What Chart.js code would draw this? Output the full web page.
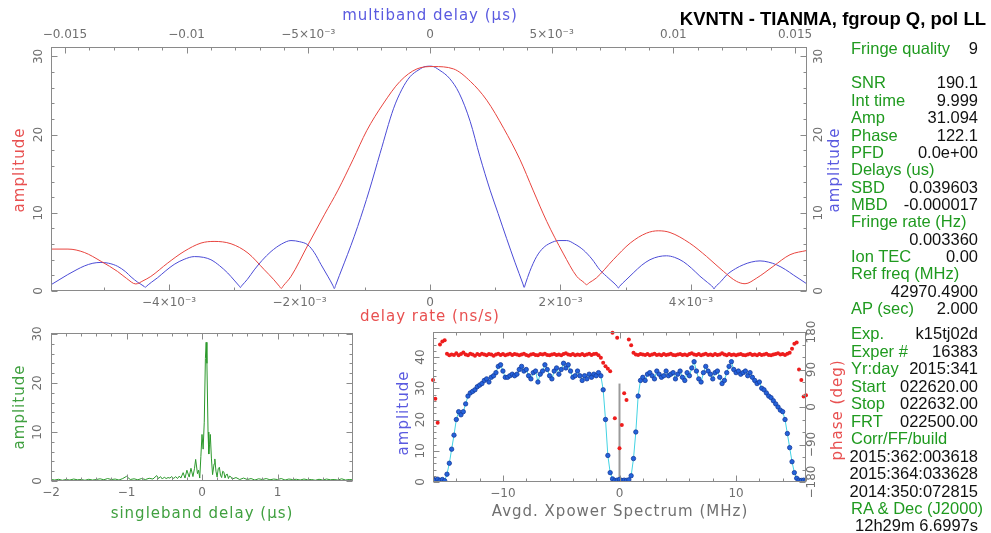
<!DOCTYPE html>
<html>
<head>
<meta charset="utf-8">
<script src="https://cdn.jsdelivr.net/npm/chart.js@4.4.1/dist/chart.umd.min.js"></script>
<style>
  html, body { margin: 0; padding: 0; background: #fff; }
  #wrap { position: relative; width: 991px; height: 533px; overflow: hidden; font-family: 'Liberation Sans', Arial, sans-serif; }
  #wrap canvas { position: absolute; left: 0; top: 0; }
  #title { position: absolute; right: 5px; top: 8px; font-weight: bold; font-size: 18.5px; color: #000; white-space: nowrap; }
  .row { position: absolute; left: 851px; width: 127px; height: 18px; line-height: 18px; font-size: 16.5px; white-space: nowrap; }
  .row .lab { position: absolute; left: 0; color: #1f9a1f; }
  .row .val { position: absolute; right: 0; color: #111; }
</style>
</head>
<body>
<div id="wrap">
  <canvas id="topChart" width="991" height="533"></canvas>
  <canvas id="sbdChart" width="991" height="533"></canvas>
  <canvas id="xpChart" width="991" height="533"></canvas>
  <div id="title">KVNTN - TIANMA, fgroup Q, pol LL</div>
  <div id="info"></div>
</div>
<script>
const FONT = "'DejaVu Sans', sans-serif";
const TICK_COLOR = '#6f6f6f';
const AXIS_COLOR = '#8a8a8a';

// ---- top panel: amplitude vs delay rate (red, x in 1e-3 ns/s) and multiband delay (blue, x in 1e-3 us)
const RATE_X = [-5.81, -5.55, -5.30, -5.04, -4.79, -4.65, -4.51, -4.40, -4.28, -4.02,
  -3.77, -3.51, -3.31, -3.05, -2.79, -2.54, -2.40, -2.31, -2.28, -2.25,
  -2.13, -1.87, -1.62, -1.41, -1.18, -0.97, -0.72, -0.46, -0.20, 0.05,
  0.36, 0.62, 0.87, 1.13, 1.38, 1.58, 1.79, 2.04, 2.25, 2.36,
  2.40, 2.44, 2.55, 2.81, 3.07, 3.32, 3.50, 3.68, 3.98, 4.24,
  4.50, 4.70, 4.83, 5.01, 5.26, 5.52, 5.78];
const RATE_AMP = [5.36, 5.36, 4.93, 3.78, 2.5, 1.6, 0.9, 1.3, 1.86, 3.58,
  5.06, 6.13, 6.34, 6.04, 4.85, 2.72, 1.5, 0.62, 0.33, 0.65,
  1.87, 5.9, 9.74, 12.9, 16.8, 20.5, 23.9, 26.8, 28.4, 28.7,
  28.4, 26.8, 24.4, 20.8, 16.8, 12.9, 8.9, 4.85, 1.87, 1.1,
  0.8, 1.05, 1.66, 4.0, 6.13, 7.4, 7.7, 7.48, 6.13, 4.42,
  2.5, 1.23, 0.93, 1.66, 3.14, 4.64, 5.19];

const MBD_X = [-15.57, -15.2, -14.88, -14.5, -14.2, -13.85, -13.52, -13.2, -12.83, -12.5,
  -12.28, -12.0, -11.75, -11.70, -11.65, -11.45, -11.19, -10.85, -10.51, -10.1,
  -9.68, -9.3, -9.0, -8.65, -8.31, -8.05, -7.84, -7.79, -7.74, -7.5,
  -7.22, -6.9, -6.53, -6.1, -5.71, -5.35, -5.02, -4.75, -4.48, -4.2,
  -3.98, -3.93, -3.88, -3.72, -3.52, -3.25, -2.97, -2.49, -2.05, -1.5,
  -1.15, -0.82, -0.45, -0.2, 0.05, 0.41, 0.8, 1.2, 1.65, 2.05,
  2.47, 2.8, 3.15, 3.5, 3.82, 3.87, 3.92, 4.1, 4.38, 4.65,
  4.93, 5.3, 5.62, 5.95, 6.30, 6.65, 6.98, 7.35, 7.69, 7.74,
  7.79, 8.05, 8.35, 8.7, 9.04, 9.4, 9.72, 10.05, 10.41, 10.75,
  11.09, 11.4, 11.62, 11.67, 11.72, 11.95, 12.19, 12.55, 12.87, 13.2,
  13.56, 13.9, 14.24, 14.6, 14.93, 15.2, 15.49];
const MBD_AMP = [0.8, 1.5, 2.1, 2.75, 3.2, 3.55, 3.65, 3.55, 3.15, 2.45,
  1.8, 1.1, 0.6, 0.45, 0.6, 1.1, 1.7, 2.6, 3.4, 4.05,
  4.4, 4.3, 4.0, 3.25, 2.3, 1.4, 0.65, 0.45, 0.65, 1.5,
  2.7, 3.9, 5.05, 6.0, 6.45, 6.3, 5.9, 4.9, 3.4, 1.9,
  0.65, 0.3, 0.7, 2.0, 3.6, 5.8, 8.25, 12.9, 17.6, 23.3,
  25.8, 27.4, 28.3, 28.7, 28.75, 28.2, 27.2, 25.3, 21.7, 17.2,
  12.9, 9.9, 6.7, 3.6, 0.9, 0.46, 0.9, 2.5, 4.4, 5.5,
  6.1, 6.45, 6.45, 6.0, 5.25, 4.1, 2.7, 1.6, 0.6, 0.38,
  0.6, 1.4, 2.3, 3.3, 4.0, 4.4, 4.5, 4.3, 3.75, 2.9,
  1.9, 1.1, 0.5, 0.26, 0.5, 1.2, 2.05, 2.85, 3.35, 3.7,
  3.85, 3.7, 3.35, 2.75, 2.05, 1.5, 0.9];

const RATE_TICKS = [-5, -4, -3, -2, -1, 0, 1, 2, 3, 4, 5];
const RATE_LABELS = [-4, -2, 0, 2, 4];
const RATE_LABEL_TEXT = ['−4×10⁻³', '−2×10⁻³', '0', '2×10⁻³', '4×10⁻³'];
const MBD_TICKS = [-15, -14, -13, -12, -11, -10, -9, -8, -7, -6, -5, -4, -3, -2, -1, 0,
  1, 2, 3, 4, 5, 6, 7, 8, 9, 10, 11, 12, 13, 14, 15];
const MBD_LABELS = [-15, -10, -5, 0, 5, 10, 15];
const MBD_LABEL_TEXT = ['−0.015', '−0.01', '−5×10⁻³', '0', '5×10⁻³', '0.01', '0.015'];
const AMP_TICKS = [0, 2, 4, 6, 8, 10, 12, 14, 16, 18, 20, 22, 24, 26, 28, 30];
const AMP_LABELS = [0, 10, 20, 30];

// ---- bottom left: singleband delay function
const SBD_X = [-2.00, -1.95, -1.90, -1.85, -1.80, -1.75, -1.70, -1.65, -1.60, -1.55,
  -1.50, -1.45, -1.40, -1.35, -1.30, -1.25, -1.20, -1.15, -1.10, -1.05,
  -1.00, -0.95, -0.90, -0.85, -0.80, -0.75, -0.70, -0.65, -0.60, -0.575,
  -0.55, -0.525, -0.50, -0.475, -0.45, -0.425, -0.40, -0.375, -0.35, -0.325,
  -0.30, -0.28, -0.25, -0.225, -0.20, -0.17, -0.146, -0.12, -0.10, -0.084,
  -0.06, -0.045, -0.03, -0.015, 0.00, 0.015, 0.03, 0.045, 0.055, 0.065,
  0.08, 0.09, 0.10, 0.11, 0.125, 0.14, 0.16, 0.17, 0.185, 0.20,
  0.215, 0.23, 0.245, 0.26, 0.275, 0.29, 0.305, 0.32, 0.335, 0.35,
  0.365, 0.38, 0.40, 0.45, 0.50, 0.55, 0.60, 0.65, 0.70, 0.75,
  0.80, 0.85, 0.90, 0.95, 1.00, 1.05, 1.10, 1.15, 1.20, 1.25,
  1.30, 1.35, 1.40, 1.45, 1.50, 1.55, 1.60, 1.65, 1.70, 1.75,
  1.80, 1.85, 1.90, 1.95, 2.00];
const SBD_AMP = [0.3, 0.2, 0.35, 0.15, 0.3, 0.2, 0.4, 0.25, 0.3, 0.15,
  0.35, 0.2, 0.3, 0.45, 0.25, 0.5, 0.3, 0.4, 0.2, 0.5,
  0.95, 0.3, 0.45, 0.25, 0.5, 0.3, 0.55, 0.4, 1.1, 0.5,
  0.9, 0.4, 0.8, 0.5, 0.7, 0.6, 0.9, 0.5, 0.9, 0.5,
  1.0, 0.6, 1.7, 0.6, 2.2, 0.8, 2.6, 0.9, 2.5, 4.4,
  1.5, 2.2, 0.6, 5.0, 9.5, 6.5, 12.0, 25.0, 28.3, 24.0,
  10.0, 5.5, 7.5, 9.5, 4.5, 1.3, 3.5, 4.5, 2.0, 0.8,
  2.5, 2.8, 1.2, 0.7, 2.0, 1.8, 0.6, 1.3, 1.4, 0.5,
  1.0, 0.9, 0.4, 0.7, 0.3, 0.6, 0.3, 0.5, 0.2, 0.45,
  0.3, 0.5, 0.25, 0.4, 0.3, 0.5, 0.2, 0.4, 0.3, 0.35,
  0.2, 0.4, 0.25, 0.3, 0.15, 0.35, 0.2, 0.4, 0.25, 0.3,
  0.2, 0.45, 0.2, 0.3, 0.25];
const SBD_TICKS = [-2, -1.8, -1.6, -1.4, -1.2, -1, -0.8, -0.6, -0.4, -0.2, 0,
  0.2, 0.4, 0.6, 0.8, 1, 1.2, 1.4, 1.6, 1.8];
const SBD_LABELS = [-2, -1, 0, 1];
const SBD_LABEL_TEXT = ['−2', '−1', '0', '1'];

// ---- bottom middle: averaged cross-power spectrum (MHz, amplitude, phase in deg)
const XP_FREQ = [-16.0, -15.8, -15.6, -15.4, -15.2, -15.0, -14.8, -14.6, -14.4, -14.2,
  -14.0, -13.8, -13.6, -13.4, -13.2, -13.0, -12.8, -12.6, -12.4, -12.2,
  -12.0, -11.8, -11.6, -11.4, -11.2, -11.0, -10.8, -10.6, -10.4, -10.2,
  -10.0, -9.8, -9.6, -9.4, -9.2, -9.0, -8.8, -8.6, -8.4, -8.2,
  -8.0, -7.8, -7.6, -7.4, -7.2, -7.0, -6.8, -6.6, -6.4, -6.2,
  -6.0, -5.8, -5.6, -5.4, -5.2, -5.0, -4.8, -4.6, -4.4, -4.2,
  -4.0, -3.8, -3.6, -3.4, -3.2, -3.0, -2.8, -2.6, -2.4, -2.2,
  -2.0, -1.8, -1.6, -1.4, -1.2, -1.0, -0.8, -0.6, -0.4, -0.2,
  0.0, 0.2, 0.4, 0.6, 0.8, 1.0, 1.2, 1.4, 1.6, 1.8,
  2.0, 2.2, 2.4, 2.6, 2.8, 3.0, 3.2, 3.4, 3.6, 3.8,
  4.0, 4.2, 4.4, 4.6, 4.8, 5.0, 5.2, 5.4, 5.6, 5.8,
  6.0, 6.2, 6.4, 6.6, 6.8, 7.0, 7.2, 7.4, 7.6, 7.8,
  8.0, 8.2, 8.4, 8.6, 8.8, 9.0, 9.2, 9.4, 9.6, 9.8,
  10.0, 10.2, 10.4, 10.6, 10.8, 11.0, 11.2, 11.4, 11.6, 11.8,
  12.0, 12.2, 12.4, 12.6, 12.8, 13.0, 13.2, 13.4, 13.6, 13.8,
  14.0, 14.2, 14.4, 14.6, 14.8, 15.0, 15.2, 15.4, 15.6, 15.8,
  16.0];
const XP_AMP = [1.0, 0.6, 0.9, 0.5, 0.8, 0.4, 2.5, 6.0, 10.5, 15.0,
  20.0, 22.5, 21.5, 22.5, 25.0, 27.5, 28.5, 29.0, 29.5, 30.5,
  31.0, 31.5, 32.5, 33.0, 32.0, 33.5, 34.0, 35.0, 37.0, 37.5,
  35.5, 33.5, 33.5, 34.0, 34.5, 34.0, 34.5, 36.0, 37.0, 35.5,
  36.0, 34.0, 33.0, 35.0, 35.5, 32.0, 34.5, 35.5, 37.5, 36.0,
  34.0, 33.0, 35.5, 36.5, 34.5, 36.0, 38.0, 36.5, 37.5, 35.5,
  33.5, 34.0, 35.5, 34.0, 32.5, 34.0, 33.0, 34.5, 33.5, 34.5,
  34.0, 35.0, 34.0, 29.5, 20.0, 8.5, 3.0, 1.0, 0.5, 0.6,
  0.8, 0.5, 0.6, 0.5, 0.7, 2.0, 7.5, 16.0, 27.5, 32.5,
  33.5, 32.5, 34.5, 35.0, 34.0, 33.0, 35.5, 34.5, 33.5, 34.0,
  35.5, 34.0, 34.5, 35.0, 33.0, 34.5, 35.5, 33.5, 32.5, 35.0,
  34.0, 36.5, 38.5, 35.5, 33.0, 32.0, 35.0, 37.0, 35.5, 34.5,
  33.0, 35.0, 35.5, 33.5, 31.5, 32.5, 35.0, 37.0, 38.5, 36.0,
  35.0, 35.5, 34.5, 35.0, 35.5, 34.0, 35.0, 33.5, 32.5, 31.5,
  32.0, 30.0, 29.5, 28.5, 27.5, 27.0, 26.0, 25.0, 24.0, 23.0,
  22.5, 20.0, 15.5, 11.0, 6.5, 3.0, 1.2, 0.6, 0.5, 0.6,
  0.5];
const XP_PHASE = [65, 20, -38, 150, 157, 160, 128, 124, 126, 125,
  129, 124, 127, 131, 126, 124, 128, 126, 123, 127,
  125, 128, 126, 124, 127, 126, 123, 126, 128, 125,
  127, 124, 126, 128, 125, 127, 126, 124, 126, 128,
  125, 123, 126, 127, 125, 124, 127, 126, 128, 125,
  124, 126, 127, 125, 126, 124, 127, 129, 126, 125,
  127, 124, 126, 125, 127, 124, 126, 128, 125, 127,
  128, 124, 118, 106, 98, 92, 86, 178, -27, 166,
  -99, -43, 33, 17, 162, 148, 130, 126, 125, 127,
  126, 125, 127, 124, 126, 128, 125, 126, 124, 127,
  125, 126, 128, 125, 124, 126, 127, 125, 126, 124,
  127, 129, 126, 125, 127, 124, 126, 128, 125, 126,
  124, 127, 125, 126, 129, 126, 124, 127, 125, 126,
  124, 126, 127, 125, 124, 126, 128, 125, 126, 124,
  127, 125, 126, 128, 125, 124, 126, 127, 129, 126,
  127, 125, 128, 130, 140, 152, 155, 90, 65, 25,
  28];
const DC_X = [0, 0];
const DC_AMP = [0, 31.5];
const XP_TICKS = [-16, -14, -12, -10, -8, -6, -4, -2, 0, 2, 4, 6, 8, 10, 12, 14, 16];
const XP_LABELS = [-10, 0, 10];
const XP_LABEL_TEXT = ['−10', '0', '10'];
const XP_AMP_TICKS = [0, 2, 4, 6, 8, 10, 12, 14, 16, 18, 20, 22, 24, 26, 28, 30, 32, 34, 36, 38, 40, 42, 44, 46, 48];
const XP_AMP_LABELS = [0, 10, 20, 30, 40];
const PHASE_TICKS = [-180, -150, -120, -90, -60, -30, 0, 30, 60, 90, 120, 150, 180];
const PHASE_LABELS = [-180, -90, 0, 90, 180];
const PHASE_LABEL_TEXT = ['−180', '−90', '0', '90', '180'];

// ---- text panel
const INFO_ROWS = [
  ['Fringe quality', '9', 48],
  ['SNR', '190.1', 82], ['Int time', '9.999', 100], ['Amp', '31.094', 117],
  ['Phase', '122.1', 135], ['PFD', '0.0e+00', 152], ['Delays (us)', '', 169],
  ['SBD', '0.039603', 187], ['MBD', '-0.000017', 204], ['Fringe rate (Hz)', '', 221],
  ['', '0.003360', 239], ['Ion TEC', '0.00', 256], ['Ref freq (MHz)', '', 273],
  ['', '42970.4900', 291], ['AP (sec)', '2.000', 308],
  ['Exp.', 'k15tj02d', 333], ['Exper #', '16383', 351], ['Yr:day', '2015:341', 368],
  ['Start', '022620.00', 386], ['Stop', '022632.00', 403], ['FRT', '022500.00', 421],
  ['Corr/FF/build', '', 438], ['', '2015:362:003618', 456], ['', '2015:364:033628', 473],
  ['', '2014:350:072815', 491], ['RA & Dec (J2000)', '', 508], ['', '12h29m 6.6997s', 525],
];

function renderInfo() {
  document.getElementById('info').innerHTML = INFO_ROWS.map(r => `
    <div class="row" style="top:${r[2] - 9}px"><span class="lab">${r[0].replace('&', '&amp;')}</span><span class="val">${r[1]}</span></div>
  `).join('');
}

function pts(xs, ys) { return xs.map((x, i) => ({ x, y: ys[i] })); }

// frame, inward tick marks, rotated y labels and axis titles
function makeFrame(spec) {
  return {
    id: 'frame',
    afterDraw(chart) {
      const { ctx, chartArea: a } = chart;
      const L = Math.round(a.left) + 0.5, R = Math.round(a.right) - 0.5;
      const T = Math.round(a.top) + 0.5, B = Math.round(a.bottom) - 0.5;
      ctx.save();
      ctx.strokeStyle = AXIS_COLOR;
      ctx.lineWidth = 1;
      ctx.strokeRect(L, T, R - L, B - T);
      ctx.beginPath();
      spec.ticks.forEach(t => {
        const s = chart.scales[t.scale];
        t.values.forEach(v => {
          const len = t.major.includes(v) ? 6 : 3;
          const p = Math.round(s.getPixelForValue(v)) + 0.5;
          t.sides.forEach(side => {
            if (side === 'bottom') { ctx.moveTo(p, B); ctx.lineTo(p, B - len); }
            if (side === 'top') { ctx.moveTo(p, T); ctx.lineTo(p, T + len); }
            if (side === 'left') { ctx.moveTo(L, p); ctx.lineTo(L + len, p); }
            if (side === 'right') { ctx.moveTo(R, p); ctx.lineTo(R - len, p); }
          });
        });
      });
      ctx.stroke();

      ctx.font = `12px ${FONT}`;
      ctx.fillStyle = TICK_COLOR;
      ctx.textAlign = 'center';
      ctx.textBaseline = 'middle';
      spec.yLabels.forEach(l => {
        const s = chart.scales[l.scale];
        l.values.forEach((v, i) => {
          ctx.save();
          ctx.translate(l.x, s.getPixelForValue(v));
          ctx.rotate(-Math.PI / 2);
          ctx.fillText(l.text ? l.text[i] : String(v), 0, 0);
          ctx.restore();
        });
      });

      spec.titles.forEach(t => {
        ctx.save();
        ctx.font = `15px ${FONT}`;
        ctx.letterSpacing = '1px';
        ctx.fillStyle = t.color;
        ctx.translate(t.x, t.y);
        if (t.rotate) ctx.rotate(-Math.PI / 2);
        ctx.fillText(t.text, 0, 0);
        ctx.restore();
      });
      ctx.restore();
    }
  };
}

function axis(pos, min, max, size, extra) {
  const horiz = pos === 'top' || pos === 'bottom';
  return Object.assign({
    type: 'linear', position: pos, min, max, bounds: 'data',
    grid: { display: false, drawTicks: false },
    border: { display: false },
    ticks: { display: false },
    afterFit: s => { if (horiz) s.height = size; else s.width = size; }
  }, extra || {});
}

function labelTicks(values, text) {
  return {
    ticks: {
      display: true, autoSkip: false, maxRotation: 0, minRotation: 0, padding: 5,
      color: TICK_COLOR, font: { family: FONT, size: 12 },
      callback: (v, i) => text[i]
    },
    afterBuildTicks: s => { s.ticks = values.map(v => ({ value: v })); }
  };
}

function baseOptions(scales) {
  return {
    responsive: false, animation: false, events: [],
    layout: { padding: 0 },
    plugins: { legend: { display: false }, tooltip: { enabled: false } },
    scales
  };
}

function renderTop() {
  const W = 991, H = 533;
  new Chart(document.getElementById('topChart'), {
    type: 'scatter',
    data: {
      datasets: [
        { data: pts(RATE_X, RATE_AMP), xAxisID: 'x', yAxisID: 'y', showLine: true, borderColor: '#e8443e',
          borderWidth: 1, pointRadius: 0, cubicInterpolationMode: 'monotone', borderJoinStyle: 'round' },
        { data: pts(MBD_X, MBD_AMP), xAxisID: 'x2', yAxisID: 'y', showLine: true, borderColor: '#4b4bd6',
          borderWidth: 1, pointRadius: 0, cubicInterpolationMode: 'monotone', borderJoinStyle: 'round' },
      ]
    },
    options: baseOptions({
      x: axis('bottom', -5.81, 5.78, H - 291, labelTicks(RATE_LABELS, RATE_LABEL_TEXT)),
      x2: axis('top', -15.57, 15.49, 47, labelTicks(MBD_LABELS, MBD_LABEL_TEXT)),
      y: axis('left', 0, 31.2, 51),
      y2: axis('right', 0, 31.2, W - 807),
    }),
    plugins: [makeFrame({
      ticks: [
        { scale: 'x', sides: ['bottom'], values: RATE_TICKS, major: RATE_LABELS },
        { scale: 'x2', sides: ['top'], values: MBD_TICKS, major: MBD_LABELS },
        { scale: 'y', sides: ['left', 'right'], values: AMP_TICKS, major: AMP_LABELS },
      ],
      yLabels: [
        { scale: 'y', x: 39, values: AMP_LABELS },
        { scale: 'y', x: 819, values: AMP_LABELS },
      ],
      titles: [
        { text: 'multiband delay (μs)', x: 430, y: 16, color: '#5a5ae0' },
        { text: 'delay rate (ns/s)', x: 430, y: 317, color: '#e85050' },
        { text: 'amplitude', x: 20, y: 170, rotate: true, color: '#e85050' },
        { text: 'amplitude', x: 835, y: 170, rotate: true, color: '#5a5ae0' },
      ]
    })]
  });
}

function renderSbd() {
  const W = 991, H = 533;
  new Chart(document.getElementById('sbdChart'), {
    type: 'scatter',
    data: {
      datasets: [
        { data: pts(SBD_X, SBD_AMP), showLine: true, borderColor: '#2b982b', borderWidth: 1,
          pointRadius: 0, tension: 0, borderJoinStyle: 'round' },
      ]
    },
    options: baseOptions({
      x: axis('bottom', -2, 2, H - 481, labelTicks(SBD_LABELS, SBD_LABEL_TEXT)),
      xt: axis('top', -2, 2, 333),
      y: axis('left', 0, 30.2, 51),
      yr: axis('right', 0, 30.2, W - 353),
    }),
    plugins: [makeFrame({
      ticks: [
        { scale: 'x', sides: ['bottom', 'top'], values: SBD_TICKS, major: SBD_LABELS },
        { scale: 'y', sides: ['left', 'right'], values: AMP_TICKS, major: AMP_LABELS },
      ],
      yLabels: [{ scale: 'y', x: 38, values: AMP_LABELS }],
      titles: [
        { text: 'singleband delay (μs)', x: 202, y: 514, color: '#40a040' },
        { text: 'amplitude', x: 20, y: 407, rotate: true, color: '#40a040' },
      ]
    })]
  });
}

function renderXpower() {
  const W = 991, H = 533;
  new Chart(document.getElementById('xpChart'), {
    type: 'scatter',
    data: {
      datasets: [
        { data: pts(DC_X, DC_AMP), yAxisID: 'y', showLine: true, borderColor: '#9a9a9a', borderWidth: 2,
          pointRadius: 0, order: 3 },
        { data: pts(XP_FREQ, XP_AMP), yAxisID: 'y', showLine: true, borderColor: '#43d3e3', borderWidth: 1,
          pointRadius: 2.2, pointBackgroundColor: '#2462dc', pointBorderColor: '#173c9a', pointBorderWidth: 0.8,
          tension: 0, order: 2 },
        { data: pts(XP_FREQ, XP_PHASE), yAxisID: 'yp', showLine: false, pointRadius: 2,
          pointBackgroundColor: '#ee1d1d', pointBorderWidth: 0, clip: false, order: 1 },
      ]
    },
    options: baseOptions({
      x: axis('bottom', -16, 16, H - 482, labelTicks(XP_LABELS, XP_LABEL_TEXT)),
      xt: axis('top', -16, 16, 332),
      y: axis('left', 0, 48, 433),
      yp: axis('right', -180, 180, W - 806),
    }),
    plugins: [makeFrame({
      ticks: [
        { scale: 'x', sides: ['bottom', 'top'], values: XP_TICKS, major: XP_LABELS },
        { scale: 'y', sides: ['left'], values: XP_AMP_TICKS, major: XP_AMP_LABELS },
        { scale: 'yp', sides: ['right'], values: PHASE_TICKS, major: PHASE_LABELS },
      ],
      yLabels: [
        { scale: 'y', x: 421, values: XP_AMP_LABELS },
        { scale: 'yp', x: 812, values: PHASE_LABELS, text: PHASE_LABEL_TEXT },
      ],
      titles: [
        { text: 'Avgd. Xpower Spectrum (MHz)', x: 620, y: 512, color: '#707070' },
        { text: 'amplitude', x: 404, y: 413, rotate: true, color: '#5a5ae0' },
        { text: 'phase (deg)', x: 838, y: 410, rotate: true, color: '#e85050' },
      ]
    })]
  });
}

renderInfo();
renderTop();
renderSbd();
renderXpower();
</script>
</body>
</html>
